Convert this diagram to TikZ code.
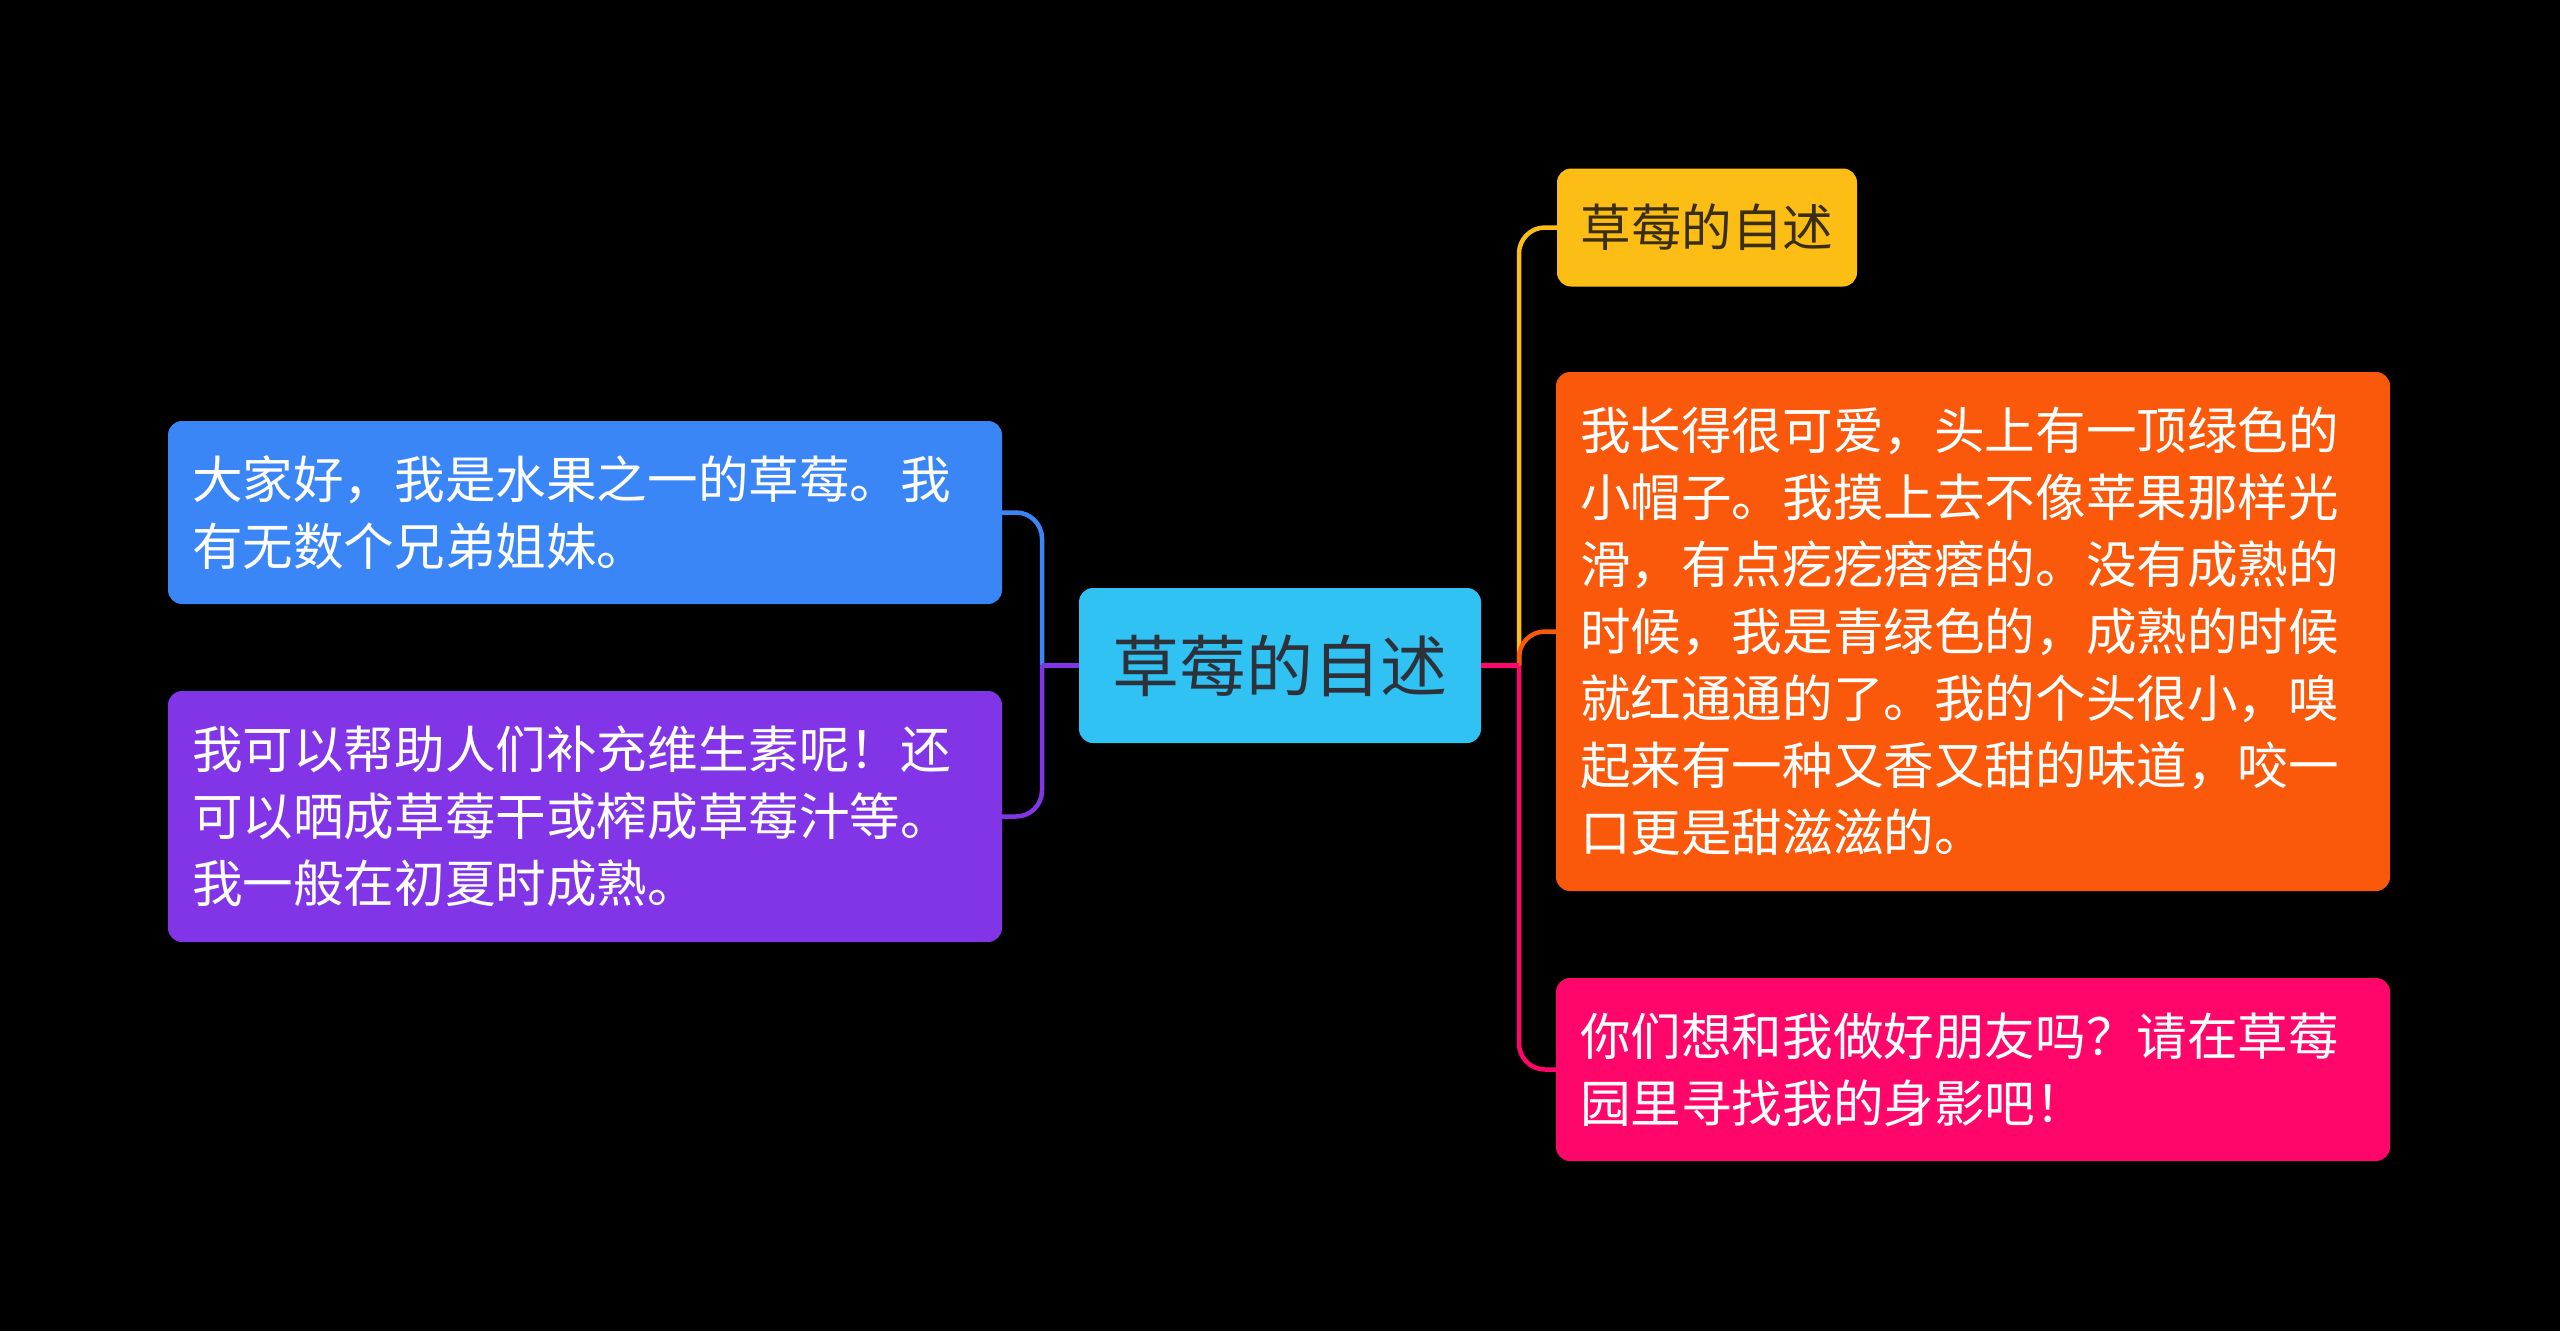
\documentclass[tikz,border=0pt]{standalone}
\usepackage{fontspec}
\setmainfont{Noto Sans CJK SC}
\definecolor{cRoot}{RGB}{47,194,243}
\definecolor{cYel}{RGB}{252,189,20}
\definecolor{cOra}{RGB}{250,88,10}
\definecolor{cPink}{RGB}{254,6,106}
\definecolor{cBlue}{RGB}{59,134,247}
\definecolor{cPurp}{RGB}{129,53,230}
\definecolor{cDark}{RGB}{45,50,58}
\definecolor{cYelTxt}{RGB}{58,46,18}
\begin{document}
\begin{tikzpicture}[x=1pt,y=-1pt,
  box/.style={rounded corners=14pt, inner xsep=24pt, inner ysep=0pt, align=left,
    text width=786pt, text=white, font=\fontsize{50.6pt}{67pt}\selectfont},
  rootbox/.style={rounded corners=14pt, fill=cRoot, text=cDark, inner sep=0pt,
    minimum width=402pt, minimum height=155pt, font=\fontsize{67pt}{80pt}\selectfont},
  yelbox/.style={rounded corners=14pt, fill=cYel, text=cYelTxt, inner sep=0pt,
    minimum width=300pt, minimum height=118pt, font=\fontsize{50.6pt}{60pt}\selectfont},
  conn/.style={line width=4.5pt},
  rconn/.style={line width=4.5pt, rounded corners=26pt}]
\fill[black] (0,0) rectangle (2560,1331);
\useasboundingbox (0,0) rectangle (2560,1331);

\node[rootbox] (root) at (1280,665.5) {草莓的自述};
\node[yelbox] (yel) at (1707,227.5) {草莓的自述};
\node[box, fill=cOra, minimum height=519pt] (ora) at (1973,631.5) {我长得很可爱，头上有一顶绿色的\\小帽子。我摸上去不像苹果那样光\\滑，有点疙疙瘩瘩的。没有成熟的\\时候，我是青绿色的，成熟的时候\\就红通通的了。我的个头很小，嗅\\起来有一种又香又甜的味道，咬一\\口更是甜滋滋的。};
\node[box, fill=cPink, minimum height=183pt] (pink) at (1973,1069.5) {你们想和我做好朋友吗？请在草莓\\园里寻找我的身影吧！};
\node[box, fill=cBlue, minimum height=183pt] (blue) at (585,512.5) {大家好，我是水果之一的草莓。我\\有无数个兄弟姐妹。};
\node[box, fill=cPurp, minimum height=251pt] (purp) at (585,816.5) {我可以帮助人们补充维生素呢！还\\可以晒成草莓干或榨成草莓汁等。\\我一般在初夏时成熟。};

\coordinate (lj) at (1042,665.5);
\coordinate (rj) at (1519,665.5);

% left connectors
\draw[rconn, cBlue] (lj) |- (blue.east);
\draw[rconn, cPurp] (lj) |- (purp.east);
\draw[conn, cPurp] (root.west) -- (lj);

% right connectors
\draw[rconn, cYel] (rj) |- (yel.west);
\draw[rconn, cOra] (rj) |- (ora.west);
\draw[rconn, cPink] (rj) |- (pink.west);
\draw[conn, cPink] (root.east) -- (rj);
\end{tikzpicture}
\end{document}
